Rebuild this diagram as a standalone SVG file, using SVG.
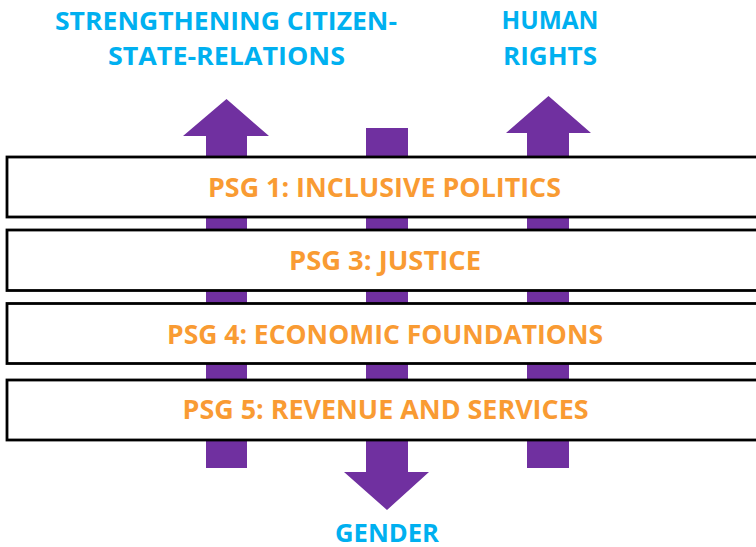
<svg xmlns="http://www.w3.org/2000/svg" width="756" height="547" viewBox="0 0 756 547">
<style>
.arrow{fill:#7030A0}
.box{fill:#FFFFFF;stroke:#000000;stroke-width:2.8}
.psg{font-family:"Open Sans","Liberation Sans",sans-serif;font-weight:bold;font-size:27.5px;fill:#F99B33;text-anchor:middle}
.theme{font-family:"Open Sans","Liberation Sans",sans-serif;font-weight:bold;font-size:25px;fill:#00B0F0;text-anchor:middle}
</style>
<rect width="756" height="547" fill="#FFFFFF"/>
<g id="connectors">
<polygon id="arrow-citizen-state" class="arrow" points="206,468 206,136 183,136 226.5,99 269,136 247,136 247,468"/>
<polygon id="arrow-gender" class="arrow" points="366,128 408,128 408,472 429,472 387,510 344,472 366,472"/>
<polygon id="arrow-human-rights" class="arrow" points="527,468 527,133 506,133 548.5,96 591,133 569,133 569,468"/>
</g>
<g id="psg1">
<rect class="box" x="7" y="157" width="760" height="60"/>
<text class="psg" x="384.5" y="197" textLength="353" lengthAdjust="spacingAndGlyphs">PSG 1: INCLUSIVE POLITICS</text>
</g>
<g id="psg3">
<rect class="box" x="7" y="230" width="760" height="60.5"/>
<text class="psg" x="385" y="269.5" textLength="192" lengthAdjust="spacingAndGlyphs">PSG 3: JUSTICE</text>
</g>
<g id="psg4">
<rect class="box" x="7" y="303.5" width="760" height="60"/>
<text class="psg" x="385" y="344" textLength="436" lengthAdjust="spacingAndGlyphs">PSG 4: ECONOMIC FOUNDATIONS</text>
</g>
<g id="psg5">
<rect class="box" x="7" y="380" width="760" height="60"/>
<text class="psg" x="385.5" y="418.5" textLength="406" lengthAdjust="spacingAndGlyphs">PSG 5: REVENUE AND SERVICES</text>
</g>
<g id="citizen-state">
<text class="theme" x="226" y="29.5" textLength="342" lengthAdjust="spacingAndGlyphs">STRENGTHENING CITIZEN-</text>
<text class="theme" x="226.5" y="65" textLength="237" lengthAdjust="spacingAndGlyphs">STATE-RELATIONS</text>
</g>
<g id="human-rights">
<text class="theme" x="550" y="29" textLength="97" lengthAdjust="spacingAndGlyphs">HUMAN</text>
<text class="theme" x="550" y="64.5" textLength="94" lengthAdjust="spacingAndGlyphs">RIGHTS</text>
</g>
<g id="gender">
<text class="theme" x="387" y="542" textLength="104" lengthAdjust="spacingAndGlyphs">GENDER</text>
</g>
</svg>
